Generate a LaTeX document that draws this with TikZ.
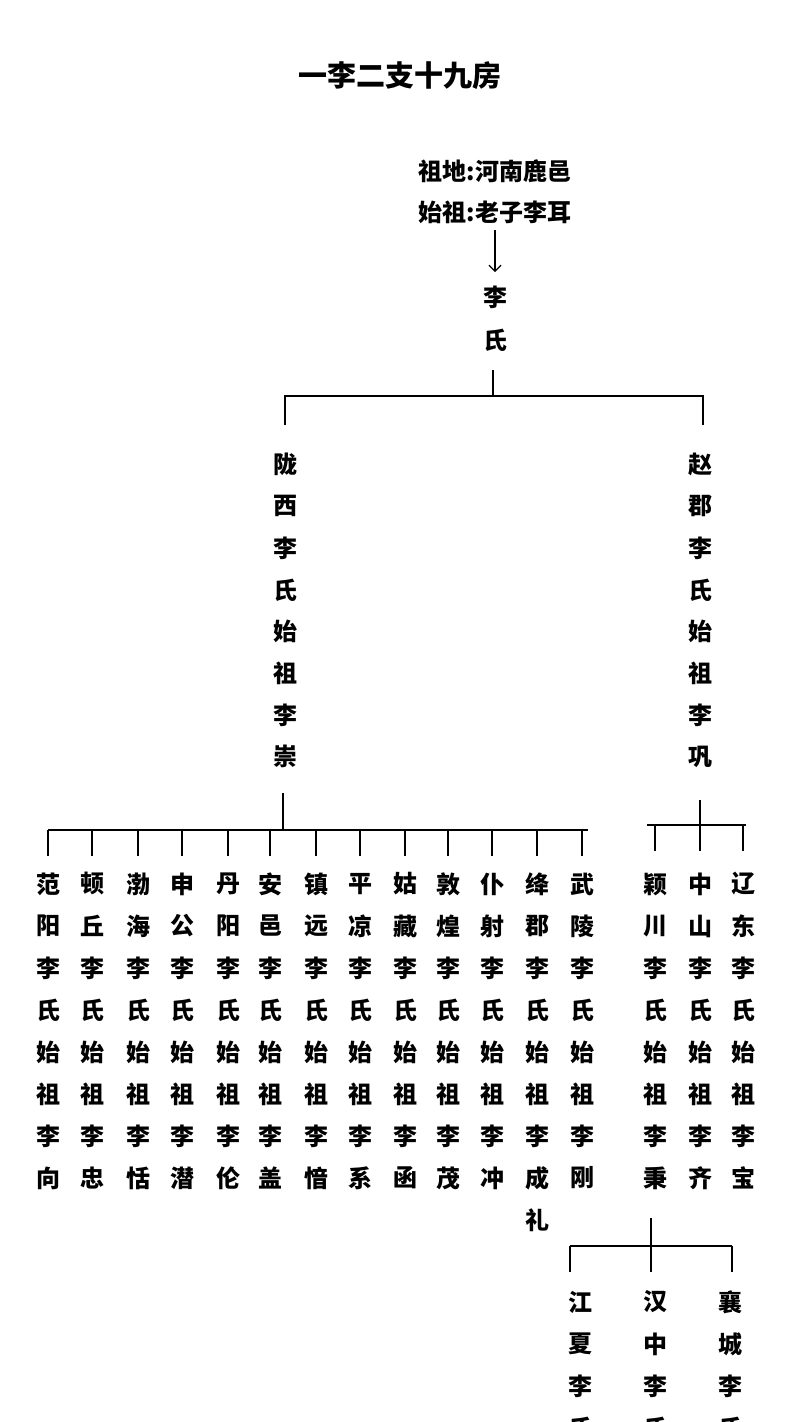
\documentclass[tikz,border=0pt]{standalone}
\usepackage{fontspec}
\newfontfamily\cjk{Noto Sans CJK SC}
\usetikzlibrary{arrows.meta}

\begin{document}
\begin{tikzpicture}[x=1pt, y=-1pt,
    every node/.style={font=\cjk\bfseries\fontsize{24}{24}\selectfont, inner sep=0pt},
    branch/.style={line width=1.4pt, black},
  ]
\useasboundingbox[fill=white] (0,0) rectangle (800,1422);

\node[font=\cjk\bfseries\fontsize{29}{29}\selectfont] (title) at (400,76) {一李二支十九房};
\node (zudi) at (495,171) {祖地:河南鹿邑};
\node (shizu) at (495,212) {始祖:老子李耳};
\node (li) at (495,297) {李};
\node (shi) at (495,340) {氏};
\draw[line width=1.2pt, -{Straight Barb[length=6pt]}] (shizu.south) ++(0,6) coordinate (a0) -- (495,272) coordinate (a1);

% top split
\coordinate (t0) at (493,370);
\draw[branch] (t0) -- (493,396) (285,425) -- (285,396) -- (703,396) -- (703,425);

% two main branches
\foreach \ch [count=\i] in {陇,西,李,氏,始,祖,李,崇}
  \node (lx\i) at (285,423+\i*41.7) {\ch};
\foreach \ch [count=\i] in {赵,郡,李,氏,始,祖,李,巩}
  \node (zj\i) at (700,423+\i*41.7) {\ch};

% longxi houses
\draw[branch] (283,793) -- (283,830) (48,830) -- (588,830);
\foreach \x/\a/\b [count=\k] in {48/{范,阳}/向, 92/{顿,丘}/忠, 138/{渤,海}/恬, 182/{申,公}/潜, 228/{丹,阳}/伦,
    270/{安,邑}/盖, 316/{镇,远}/愔, 360/{平,凉}/系, 405/{姑,藏}/函, 448/{敦,煌}/茂, 492/{仆,射}/冲, 537/{绛,郡}/成, 582/{武,陵}/刚} {
  \draw[branch] (\x,830) -- (\x,856);
  \foreach \ch [count=\i] in \a {
    \node (h\k-\i) at (\x,842+\i*42) {\ch};
  }
  \foreach \ch [count=\i] in {李,氏,始,祖,李} {
    \node (hh\k-\i) at (\x,926+\i*42) {\ch};
  }
  \node (h\k-e) at (\x,1178) {\b};
}
\node (li13) at (537,1220) {礼};

% zhaojun houses
\draw[branch] (700,800) -- (700,825) (647,825) -- (746,825);
\foreach \x/\a/\b [count=\k] in {655/{颖,川}/秉, 700/{中,山}/齐, 743/{辽,东}/宝} {
  \draw[branch] (\x,825) -- (\x,851);
  \foreach \ch [count=\i] in \a {
    \node (z\k-\i) at (\x,842+\i*42) {\ch};
  }
  \foreach \ch [count=\i] in {李,氏,始,祖,李} {
    \node (zz\k-\i) at (\x,926+\i*42) {\ch};
  }
  \node (z\k-e) at (\x,1178) {\b};
}

% lower houses
\draw[branch] (651,1218) -- (651,1270) (570,1246) -- (732,1246);
\foreach \x/\d/\a [count=\k] in {580/570/{江,夏,李,氏}, 655/651/{汉,中,李,氏}, 730/732/{襄,城,李,氏}} {
  \draw[branch] (\d,1246) -- (\d,1272);
  \foreach \ch [count=\i] in \a {
    \node (b\k-\i) at (\x,1260+\i*42) {\ch};
  }
}
\end{tikzpicture}
\end{document}
